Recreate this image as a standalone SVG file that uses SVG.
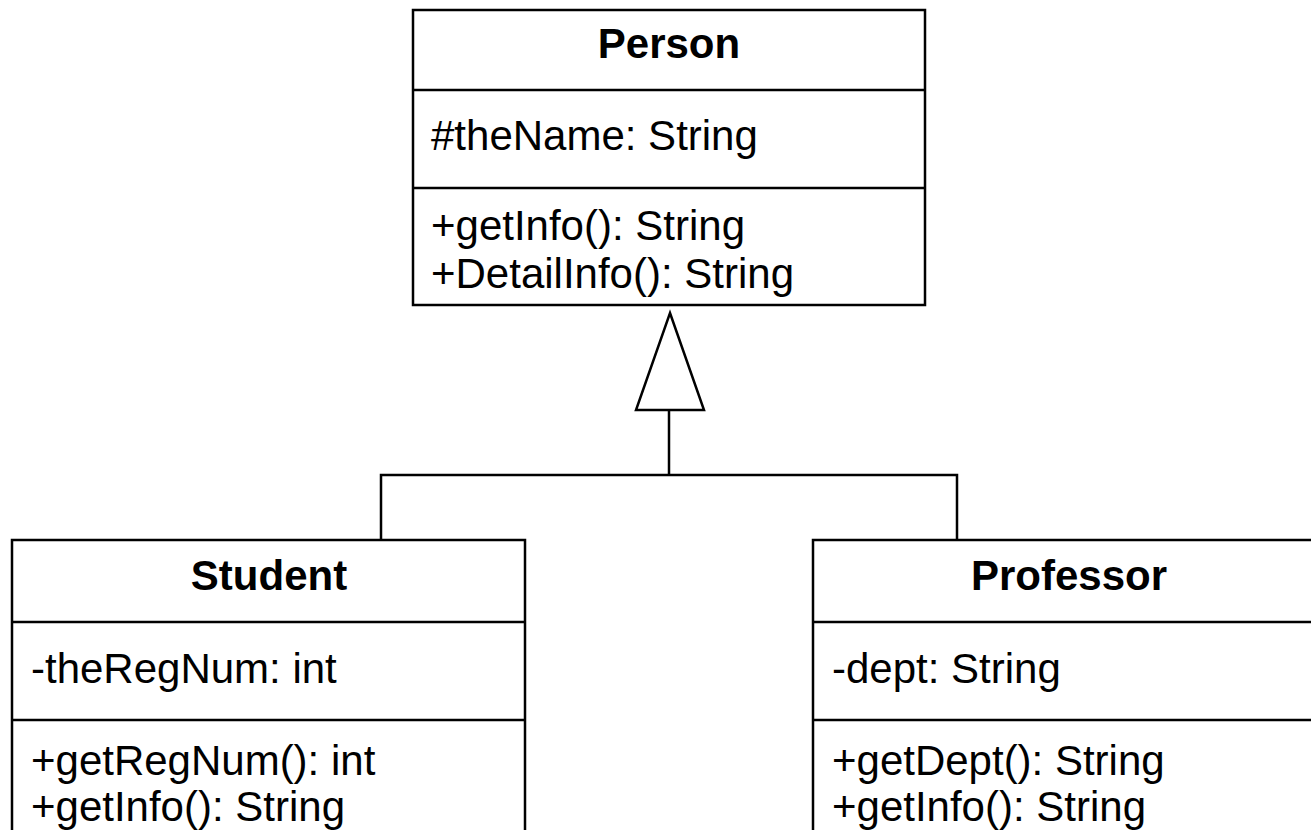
<svg xmlns="http://www.w3.org/2000/svg" width="1311" height="830" viewBox="0 0 1311 830">
  <style>
    .box { fill: #ffffff; stroke: #000000; stroke-width: 2.5; }
    .sep { stroke: #000000; stroke-width: 2.5; }
    .title { font-family: "Liberation Sans", Arial, sans-serif; font-size: 42px; font-weight: bold; text-anchor: middle; fill: #000000; }
    .member { font-family: "Liberation Sans", Arial, sans-serif; font-size: 42px; fill: #000000; }
    .link { fill: none; stroke: #000000; stroke-width: 2.5; }
    .head { fill: #ffffff; stroke: #000000; stroke-width: 2.5; stroke-linejoin: miter; }
  </style>

  <!-- generalization connectors: subclasses join a bus that rises to the hollow triangle -->
  <g id="connectors">
    <polyline class="link" points="381,540 381,475 957,475 957,540"/>
    <line class="link" x1="669" y1="475" x2="669" y2="410"/>
    <polygon class="head" points="670,313 704,410 636,410"/>
  </g>

  <!-- base class -->
  <g id="person">
    <rect class="box" x="413" y="10" width="512" height="295"/>
    <line class="sep" x1="413" y1="90" x2="925" y2="90"/>
    <line class="sep" x1="413" y1="188" x2="925" y2="188"/>
    <text class="title" x="669" y="58">Person</text>
    <text class="member" x="431" y="150">#theName: String</text>
    <text class="member" x="431" y="240">+getInfo(): String</text>
    <text class="member" x="431" y="288">+DetailInfo(): String</text>
  </g>

  <!-- subclass: Student -->
  <g id="student">
    <rect class="box" x="12" y="540" width="513" height="310"/>
    <line class="sep" x1="12" y1="622" x2="525" y2="622"/>
    <line class="sep" x1="12" y1="720" x2="525" y2="720"/>
    <text class="title" x="269" y="590">Student</text>
    <text class="member" x="31" y="683">-theRegNum: int</text>
    <text class="member" x="31" y="775">+getRegNum(): int</text>
    <text class="member" x="31" y="821">+getInfo(): String</text>
  </g>

  <!-- subclass: Professor -->
  <g id="professor">
    <rect class="box" x="813" y="540" width="512" height="310"/>
    <line class="sep" x1="813" y1="622" x2="1325" y2="622"/>
    <line class="sep" x1="813" y1="720" x2="1325" y2="720"/>
    <text class="title" x="1069" y="590">Professor</text>
    <text class="member" x="832" y="683">-dept: String</text>
    <text class="member" x="832" y="775">+getDept(): String</text>
    <text class="member" x="832" y="821">+getInfo(): String</text>
  </g>
</svg>
